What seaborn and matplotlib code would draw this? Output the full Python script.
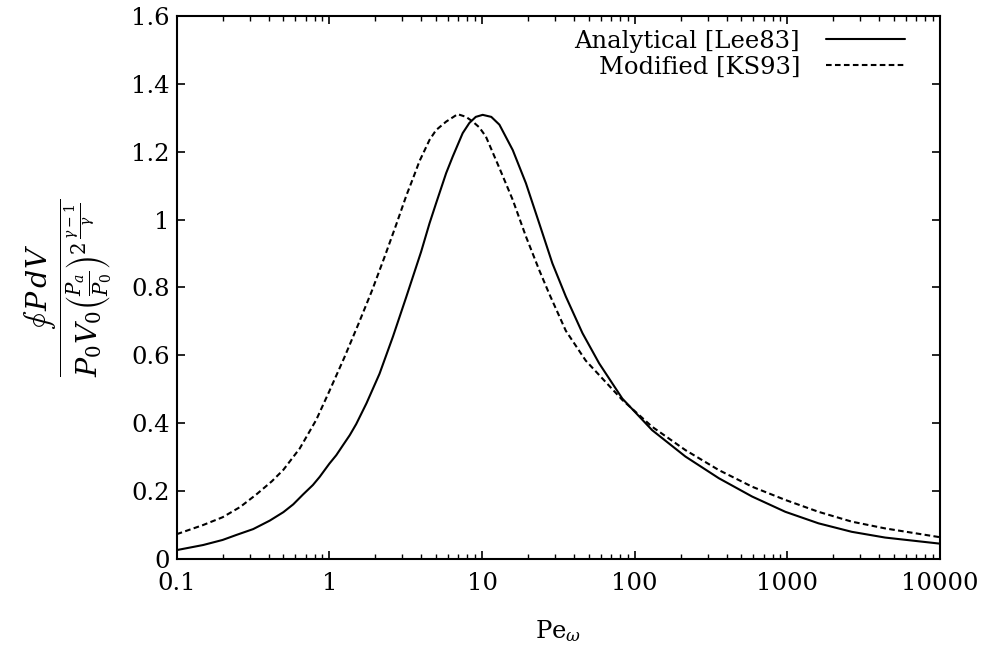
import numpy as np
import pandas as pd
import matplotlib
matplotlib.use("Agg")
import matplotlib.pyplot as plt
import seaborn as sns
from matplotlib.ticker import FixedLocator, FixedFormatter, LogLocator, NullFormatter

# ---- data ----
pe_analytical = [0.1, 0.149, 0.2, 0.247, 0.317, 0.407, 0.5, 0.58, 0.672, 0.78, 0.864,
                 1.0, 1.11, 1.23, 1.36, 1.5, 1.75, 2.13, 2.61, 3.18, 3.99, 4.53,
                 5.0, 5.82, 6.43, 7.47, 8.26, 9.1, 10.1, 11.5, 13.0, 15.9, 19.4,
                 23.7, 28.9, 35.4, 45.5, 58.5, 83.0, 130.0, 215.0, 356.0, 588.0,
                 970.0, 1600.0, 2640.0, 4370.0, 10000.0]
w_analytical = [0.025, 0.040, 0.055, 0.070, 0.087, 0.112, 0.137, 0.160, 0.189, 0.217, 0.241,
                0.280, 0.305, 0.335, 0.364, 0.397, 0.458, 0.545, 0.655, 0.770, 0.905, 0.989,
                1.048, 1.137, 1.186, 1.255, 1.285, 1.303, 1.309, 1.303, 1.280, 1.205, 1.107,
                0.989, 0.871, 0.773, 0.665, 0.576, 0.472, 0.379, 0.301, 0.237, 0.183,
                0.138, 0.104, 0.079, 0.062, 0.044]

pe_modified = [0.1, 0.149, 0.2, 0.26, 0.33, 0.42, 0.5, 0.64, 0.82, 1.0, 1.25, 1.55,
               1.9, 2.3, 2.74, 3.2, 3.52, 3.89, 4.53, 5.0, 5.82, 6.93, 7.86, 8.7,
               9.6, 10.6, 13.0, 15.9, 19.4, 23.7, 27.5, 35.4, 47.8, 83.0, 130.0,
               215.0, 356.0, 588.0, 970.0, 1600.0, 2640.0, 4370.0, 10000.0]
w_modified = [0.072, 0.099, 0.122, 0.152, 0.188, 0.228, 0.262, 0.325, 0.409, 0.494, 0.592, 0.692,
              0.790, 0.890, 0.985, 1.072, 1.120, 1.172, 1.235, 1.264, 1.289, 1.311, 1.303, 1.289,
              1.272, 1.245, 1.152, 1.058, 0.950, 0.851, 0.782, 0.672, 0.584, 0.468, 0.389,
              0.320, 0.261, 0.212, 0.173, 0.138, 0.109, 0.089, 0.063]

series_labels = ["Analytical [Lee83]", "Modified [KS93]"]
x_ticks = [0.1, 1, 10, 100, 1000, 10000]
x_ticklabels = ["0.1", "1", "10", "100", "1000", "10000"]
y_ticks = [0, 0.2, 0.4, 0.6, 0.8, 1.0, 1.2, 1.4, 1.6]
y_ticklabels = ["0", "0.2", "0.4", "0.6", "0.8", "1", "1.2", "1.4", "1.6"]

df_a = pd.DataFrame({"Pe": pe_analytical, "W": w_analytical})
df_m = pd.DataFrame({"Pe": pe_modified, "W": w_modified})

sns.set_theme(style="ticks")
plt.rcParams["font.family"] = ["DejaVu Serif"]
plt.rcParams["mathtext.fontset"] = "dejavuserif"
plt.rcParams["xtick.direction"] = "in"
plt.rcParams["ytick.direction"] = "in"
plt.rcParams["text.color"] = "black"
plt.rcParams["axes.labelcolor"] = "black"
plt.rcParams["xtick.color"] = "black"
plt.rcParams["ytick.color"] = "black"

fig = plt.figure(figsize=(9.85, 6.48), dpi=100)
ax = fig.add_axes([0.1794, 0.138, 0.9543 - 0.1794, 0.975 - 0.138])

sns.lineplot(data=df_a, x="Pe", y="W", ax=ax, color="black", linewidth=1.5,
             label=series_labels[0])
sns.lineplot(data=df_m, x="Pe", y="W", ax=ax, color="black", linewidth=1.5,
             label=series_labels[1])
ax.lines[1].set_dashes([2.7, 1.6])

ax.set_xscale("log")
ax.set_xlim(0.1, 10000)
ax.set_ylim(0, 1.6)

ax.xaxis.set_major_locator(FixedLocator(x_ticks))
ax.xaxis.set_major_formatter(FixedFormatter(x_ticklabels))
ax.xaxis.set_minor_locator(LogLocator(base=10, subs=np.arange(2, 10)))
ax.xaxis.set_minor_formatter(NullFormatter())
ax.yaxis.set_major_locator(FixedLocator(y_ticks))
ax.yaxis.set_major_formatter(FixedFormatter(y_ticklabels))

ax.tick_params(axis="both", which="major", length=6, width=1.2, labelsize=17.5,
               top=True, right=True, colors="black")
ax.tick_params(axis="x", which="major", pad=10)
ax.tick_params(axis="y", which="major", pad=5)
ax.tick_params(axis="x", which="minor", length=3.5, width=1.0, top=True, bottom=True)
for s in ax.spines.values():
    s.set_linewidth(1.5)
    s.set_color("black")

ax.set_xlabel(r"Pe$_\omega$", fontsize=17.5, labelpad=16)
ax.set_ylabel(r"$\dfrac{\oint\, P\, dV}{P_0 V_0 \left(\frac{P_a}{P_0}\right)^{2\,\frac{\gamma-1}{\gamma}}}$",
              fontsize=20.5, labelpad=12)

leg = ax.legend(loc="upper right", bbox_to_anchor=(0.967, 0.993), borderaxespad=0,
                frameon=False, markerfirst=False, fontsize=17.5,
                handlelength=3.25, handletextpad=1.07, labelspacing=0.12)
for t in leg.get_texts():
    t.set_ha("right")

fig.savefig("out.png", dpi=100, facecolor="white")
